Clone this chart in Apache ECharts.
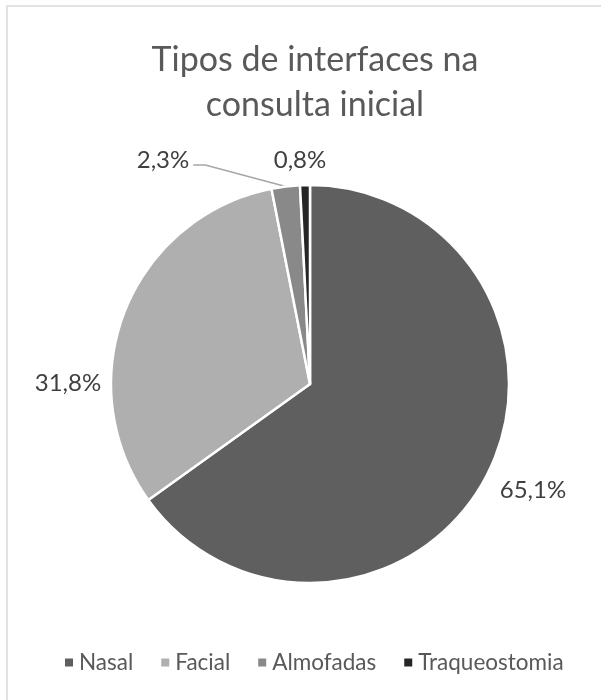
<!DOCTYPE html>
<html>
<head>
<meta charset="utf-8">
<script src="https://cdn.jsdelivr.net/npm/echarts@6/dist/echarts.min.js"></script>
<style>
  html, body { margin: 0; padding: 0; background: #fff; }
  #chart { width: 601px; height: 700px; }
</style>
</head>
<body>
<div id="chart"></div>
<script>
// Interface types at the initial consultation (percent of patients)
const categories = ['Nasal', 'Facial', 'Almofadas', 'Traqueostomia'];
const shares = [65.1, 31.8, 2.3, 0.8];
const sliceColors = ['#5f5f5f', '#afafaf', '#898989', '#262626'];

const titleText = 'Tipos de interfaces na\nconsulta inicial';
const font = 'Lato, "Open Sans", sans-serif';

const CX = 310, CY = 384, R = 199;
// label centre offsets from the pie centre, per slice
const labelOffsets = [[223, 106], [-242, -1], [-147, -224], [-10, -224]];

// mid angle (radians, clockwise from 12 o'clock) of a slice
function midAngle(idx) {
  const total = shares.reduce((a, b) => a + b, 0);
  let acc = 0;
  for (let i = 0; i < idx; i++) acc += shares[i];
  return ((acc + shares[idx] / 2) / total) * Math.PI * 2;
}

const chart = echarts.init(document.getElementById('chart'), null, { renderer: 'canvas' });

chart.setOption({
  backgroundColor: '#ffffff',
  animation: false,
  title: {
    text: titleText,
    left: CX,
    textAlign: 'center',
    top: 33,
    textStyle: {
      fontFamily: font,
      fontSize: 34,
      fontWeight: 'normal',
      color: '#595959',
      lineHeight: 45
    }
  },
  graphic: [{
    type: 'rect',
    shape: { x: 7, y: 6, width: 640, height: 740 },
    style: { fill: 'none', stroke: '#d9d9d9', lineWidth: 1.5 },
    silent: true
  }],
  legend: {
    data: categories,
    bottom: 21,
    left: 58,
    icon: 'rect',
    itemWidth: 10,
    itemHeight: 10,
    itemGap: 26,
    textStyle: { fontFamily: font, fontSize: 22.5, color: '#595959' }
  },
  series: [{
    type: 'pie',
    center: [CX, CY],
    radius: [0, R],
    startAngle: 90,
    clockwise: true,
    avoidLabelOverlap: false,
    itemStyle: { borderColor: '#ffffff', borderWidth: 2.5 },
    label: {
      show: true,
      position: 'outside',
      fontFamily: font,
      fontSize: 24,
      color: '#404040',
      formatter: p => p.value.toFixed(1).replace('.', ',') + '%'
    },
    labelLine: { show: false, lineStyle: { color: '#a6a6a6', width: 1.5 } },
    labelLayout: p => {
      const o = labelOffsets[p.dataIndex];
      const out = { x: CX + o[0], y: CY + o[1], align: 'center', verticalAlign: 'middle' };
      if (p.dataIndex === 2) {
        const a = midAngle(2);
        const ex = CX + R * Math.sin(a), ey = CY - R * Math.cos(a);
        const sx = CX + o[0] + p.labelRect.width / 2 + 4, sy = CY + o[1] + 5;
        out.labelLinePoints = [[sx, sy], [sx + 12, sy], [ex, ey]];
      }
      return out;
    },
    data: categories.map((name, i) => ({
      name,
      value: shares[i],
      itemStyle: { color: sliceColors[i] },
      labelLine: { show: i === 2, length: 10, length2: 30 }
    }))
  }]
});
</script>
</body>
</html>
